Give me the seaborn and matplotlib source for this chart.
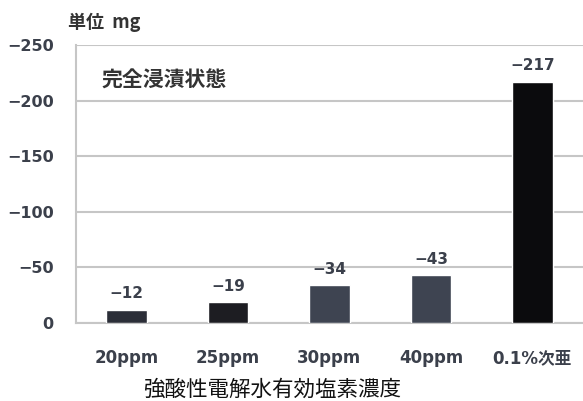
import matplotlib
matplotlib.use("Agg")
import matplotlib.pyplot as plt
import seaborn as sns
import pandas as pd
from matplotlib.ticker import FixedLocator

# Chart data
categories = ["20ppm", "25ppm", "30ppm", "40ppm", "0.1%次亜"]
values = [-12, -19, -34, -43, -217]
bar_colors = ["#2b2e38", "#1d1d22", "#3e4451", "#3e4451", "#0b0b0d"]
y_ticks = [0, -50, -100, -150, -200, -250]

sns.set_theme(style="white")
plt.rcParams["font.family"] = ["DejaVu Sans", "Noto Sans CJK JP"]
plt.rcParams["axes.unicode_minus"] = True

df = pd.DataFrame({"cat": categories, "val": values})

fig = plt.figure(figsize=(5.83, 4.01), dpi=100)
ax = fig.add_axes([76 / 583, 1 - 323 / 401, 1 - 76 / 583, (323 - 45) / 401])

sns.barplot(data=df, x="cat", y="val", hue="cat", palette=bar_colors,
            width=0.4, legend=False, saturation=1, ax=ax, zorder=3)

ax.set_xlim(-0.5, 4.5)
ax.set_ylim(0, -250)
ax.set_yticks(y_ticks)

grid_c = "#c6c6c6"
ax.yaxis.grid(True, color=grid_c, linewidth=1.5, zorder=0)
ax.xaxis.grid(False)
for side in ["top", "right"]:
    ax.spines[side].set_visible(False)
for side in ["left", "bottom"]:
    ax.spines[side].set_color(grid_c)
    ax.spines[side].set_linewidth(1.5)

label_c = "#3b404b"
ax.tick_params(axis="y", length=0, pad=16, labelsize=11.5, labelcolor=label_c)
for t in ax.get_yticklabels():
    t.set_fontweight("bold")

ax.xaxis.set_minor_locator(FixedLocator([0.5, 1.5, 2.5, 3.5]))
ax.tick_params(axis="x", which="both", direction="in", length=5, width=1,
               color=grid_c, pad=19, labelsize=12, labelcolor=label_c)
ax.tick_params(axis="x", which="major", length=4)
for t in ax.get_xticklabels():
    t.set_fontweight("bold")

# Value labels above each bar
for i, v in enumerate(values):
    ax.annotate(f"\u2212{abs(v)}", (i, v), xytext=(0, 6), textcoords="offset points",
                ha="center", va="bottom", fontsize=11, fontweight="bold",
                color=label_c)

ax.set_xlabel("")
ax.set_ylabel("")

fig.text(68 / 583, 1 - 22 / 401, "単位  mg", ha="left", va="center",
         fontsize=13, fontweight="bold", color="#333333",
         family=["Noto Sans CJK JP", "DejaVu Sans"])
fig.text(102 / 583, 1 - 80 / 401, "完全浸漬状態", ha="left", va="center",
         fontsize=15, fontweight="bold", color="#333333",
         family=["Noto Sans CJK JP"])
fig.text(272 / 583, 1 - 390 / 401, "強酸性電解水有効塩素濃度", ha="center", va="center",
         fontsize=15.5, color="#111111", family=["Noto Sans CJK JP"])

fig.savefig("out.png", dpi=100)
